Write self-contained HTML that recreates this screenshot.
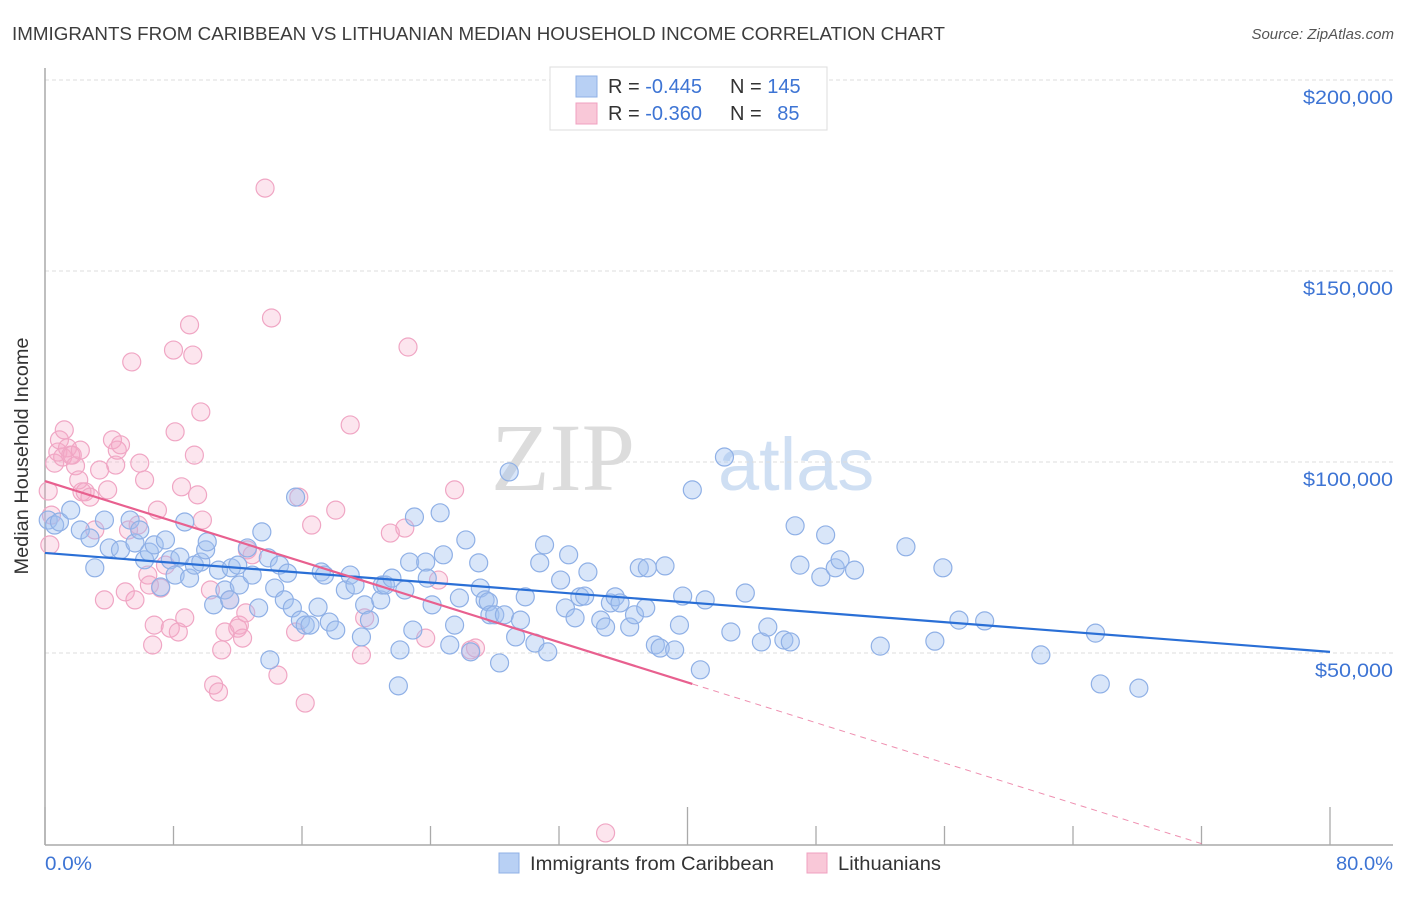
<!DOCTYPE html>
<html><head><meta charset="utf-8"><style>
body{margin:0;background:#fff;font-family:"Liberation Sans",sans-serif;}
svg text{font-family:"Liberation Sans",sans-serif;}
</style></head><body>
<svg width="1406" height="892" xmlns="http://www.w3.org/2000/svg">
<text x="12" y="40" font-size="18" fill="#3c3c3c" textLength="933" lengthAdjust="spacingAndGlyphs">IMMIGRANTS FROM CARIBBEAN VS LITHUANIAN MEDIAN HOUSEHOLD INCOME CORRELATION CHART</text>
<text x="1394" y="39" font-size="15" fill="#555" font-style="italic" text-anchor="end">Source: ZipAtlas.com</text>
<g>
<text x="635" y="490" font-size="96" fill="#dcdcdc" text-anchor="end" font-family="Liberation Serif" style="font-family:'Liberation Serif',serif">ZIP</text>
<text x="718" y="490" font-size="74" fill="#cfdff3">atlas</text>
</g>
<g id="grid"></g>
<line x1="45" y1="68" x2="45" y2="845" stroke="#aaa" stroke-width="1.5"/>
<line x1="45" y1="845" x2="1393" y2="845" stroke="#aaa" stroke-width="1.5"/>
<g id="ticks"></g>
<text x="28" y="456" font-size="19" fill="#333" text-anchor="middle" transform="rotate(-90 28 456)" textLength="237" lengthAdjust="spacingAndGlyphs">Median Household Income</text>
<text x="45" y="870" font-size="19" fill="#3d74d4" textLength="47" lengthAdjust="spacingAndGlyphs">0.0%</text>
<text x="1336" y="870" font-size="19" fill="#3d74d4" textLength="57" lengthAdjust="spacingAndGlyphs">80.0%</text>
<g id="pts"></g>
<g id="lines"></g>
<g>
<rect x="550" y="67" width="277" height="63" fill="#fff" stroke="#ddd"/>
<rect x="576" y="76" width="21" height="21" fill="#b8d0f4" stroke="#8fb0e6"/>
<rect x="576" y="103" width="21" height="21" fill="#f9c8d8" stroke="#f0a0c0"/>
<text x="608" y="93" font-size="20" fill="#333">R = <tspan fill="#3d74d4">-0.445</tspan></text>
<text x="730" y="93" font-size="20" fill="#333">N = <tspan fill="#3d74d4">145</tspan></text>
<text x="608" y="120" font-size="20" fill="#333">R = <tspan fill="#3d74d4">-0.360</tspan></text>
<text x="730" y="120" font-size="20" fill="#333">N = <tspan fill="#3d74d4" dx="10">85</tspan></text>
</g>
<g>
<rect x="499" y="853" width="20" height="20" fill="#b8d0f4" stroke="#8fb0e6"/>
<text x="530" y="870" font-size="19" fill="#333" textLength="244" lengthAdjust="spacingAndGlyphs">Immigrants from Caribbean</text>
<rect x="807" y="853" width="20" height="20" fill="#f9c8d8" stroke="#f0a0c0"/>
<text x="838" y="870" font-size="19" fill="#333" textLength="103" lengthAdjust="spacingAndGlyphs">Lithuanians</text>
</g>
</svg>
<script>
const yTicks=[50000,100000,150000,200000];
const yTickLabels=["$50,000","$100,000","$150,000","$200,000"];
const xTicks=[0,8,16,24,32,40,48,56,64,72,80];
const blueX=[.2,.6,.9,1.6,2.2,2.8,3.1,3.7,4.0,4.7,5.3,5.6,5.9,6.2,6.5,6.8,7.2,7.5,7.8,8.1,8.4,8.7,9.0,9.3,9.7,10.0,10.1,10.5,10.8,11.2,11.5,11.6,12.0,12.1,12.6,12.9,13.3,13.5,13.9,14.0,14.3,14.6,14.9,15.1,15.4,15.6,15.9,16.2,16.5,17.0,17.2,17.4,17.7,18.1,18.7,19.0,19.3,19.7,19.9,20.2,20.9,21.0,21.2,21.6,22.0,22.1,22.4,22.7,23.0,22.9,23.7,23.8,24.1,24.6,24.8,25.2,25.5,25.8,26.2,26.5,27.0,27.1,27.4,27.6,27.7,28.0,28.3,28.6,28.9,29.3,29.6,29.9,30.5,30.8,31.1,31.3,32.1,32.4,32.6,33.0,33.3,33.6,33.8,34.6,34.9,35.2,35.5,35.8,36.4,36.7,37.0,37.4,37.5,38.0,38.3,38.6,39.2,39.5,39.7,40.3,40.8,41.1,42.3,42.7,43.6,44.6,45.0,46.0,46.4,46.7,47.0,48.3,48.6,49.2,49.5,50.4,52.0,53.6,55.4,55.9,56.9,58.5,62.0,65.4,65.7,68.1];
const blueY=[84.8,83.5,84.3,87.4,82.2,80.1,72.3,84.8,77.5,77.0,84.8,78.8,82.2,74.4,76.4,78.3,67.3,79.6,74.4,70.4,75.1,84.3,69.6,73.0,73.8,77.0,79.1,62.6,71.7,66.5,63.9,72.3,73.0,67.8,77.5,70.4,61.8,81.7,74.9,48.2,67.0,73.0,63.9,70.9,61.8,90.8,58.6,57.3,57.3,62.0,71.2,70.4,58.1,56.0,66.5,70.4,67.8,54.2,62.6,58.6,63.9,67.8,67.8,69.6,41.4,50.8,66.5,73.8,85.6,56.0,73.8,69.6,62.6,86.7,75.7,52.1,57.3,64.4,79.6,50.3,73.6,67.0,63.9,63.4,60.0,60.0,47.4,60.0,97.4,54.2,58.6,64.7,52.6,73.6,78.3,50.3,69.1,61.8,75.7,59.2,64.7,64.9,71.2,58.6,56.8,63.1,64.7,63.1,56.8,60.0,72.3,61.8,72.3,52.1,51.3,72.8,50.8,57.3,64.9,92.7,45.6,63.9,101.3,55.5,65.7,52.9,56.8,53.4,52.9,83.3,73.0,69.9,80.9,72.3,74.4,71.7,51.8,77.8,53.1,72.3,58.6,58.4,49.5,55.2,41.9,40.8];
const pinkX=[.2,.3,.4,.6,.8,.9,1.1,1.2,1.4,1.6,1.7,1.9,2.1,2.2,2.3,2.5,2.8,3.1,3.4,3.7,3.9,4.2,4.4,4.5,4.7,5.0,5.2,5.4,5.6,5.8,5.9,6.2,6.4,6.5,6.7,6.8,7.0,7.2,7.5,7.8,8.0,8.1,8.3,8.5,8.7,9.0,9.2,9.3,9.5,9.7,9.8,10.3,10.5,10.8,11.0,11.2,11.5,12.0,12.1,12.3,12.5,12.6,12.9,13.7,14.1,14.5,15.6,15.8,16.2,16.6,18.1,19.0,19.7,19.9,21.5,22.4,22.6,23.7,24.5,25.5,26.5,26.8,34.9];
const pinkY=[92.4,78.3,86.1,99.7,102.6,105.8,101.3,108.4,103.7,101.8,101.8,99.0,95.3,103.1,92.2,92.2,90.8,82.2,97.9,63.9,92.7,105.8,99.2,103.1,104.5,66.0,82.2,126.2,63.9,83.5,99.7,95.3,70.4,67.8,52.1,57.3,87.4,67.0,73.0,56.5,129.3,107.9,55.5,93.5,59.2,135.9,128.0,101.8,91.4,113.1,84.8,66.5,41.6,39.8,50.8,55.5,63.9,56.5,57.3,53.9,60.5,77.0,75.7,171.7,137.7,44.2,55.5,90.8,36.9,83.5,87.4,109.7,49.5,59.2,81.4,82.7,130.1,53.9,69.1,92.7,50.8,51.3,2.9];
const blueTrend=[76.2,50.3];
const pinkTrend=[95.0,41.9,0.1];
const pinkTrendX=[0,40.3,72];
const NS="http://www.w3.org/2000/svg";
function sx(p){return 45+p*(1330-45)/80;}
function sy(k){return 844-k*191/50;}
function mk(t,a,parent){const e=document.createElementNS(NS,t);for(const k in a)e.setAttribute(k,a[k]);parent.appendChild(e);return e;}
const grid=document.getElementById('grid');
yTicks.forEach((v,i)=>{
  const y=sy(v/1000);
  const l=mk('line',{x1:45,x2:1393,y1:y,y2:y,stroke:'#ddd','stroke-dasharray':'4 3'},grid);
  
  
  const len=yTickLabels[i].length>7?90:78;
  const t=mk('text',{x:1393-len,y:y+24,'font-size':19,fill:'#3d74d4',textLength:len,lengthAdjust:'spacingAndGlyphs'},grid);
  t.textContent=yTickLabels[i];
  
  
});
const ticks=document.getElementById('ticks');
xTicks.forEach((p,i)=>{
  const x=sx(p);
  const top=(i===0||i===xTicks.length-1||i===5)?807:826;
  const l=mk('line',{x1:x,x2:x,y1:top,y2:845,stroke:'#aaa','stroke-width':1.3},ticks);
  
  
});
const pts=document.getElementById('pts');
pinkX.forEach((p,i)=>{
  const c=mk('circle',{cx:sx(p),cy:sy(pinkY[i]),r:9,fill:'rgba(246,170,200,0.3)',stroke:'#f0a6c4','stroke-width':1.2},pts);
  
  
});
blueX.forEach((p,i)=>{
  const c=mk('circle',{cx:sx(p),cy:sy(blueY[i]),r:9,fill:'rgba(160,192,240,0.4)',stroke:'#8fb0e6','stroke-width':1.2},pts);
  
  
});
const lines=document.getElementById('lines');
const bl=mk('line',{x1:sx(0),y1:sy(blueTrend[0]),x2:sx(80),y2:sy(blueTrend[1]),stroke:'#2a6fd6','stroke-width':2.2},lines);


const pl=mk('line',{x1:sx(pinkTrendX[0]),y1:sy(pinkTrend[0]),x2:sx(pinkTrendX[1]),y2:sy(pinkTrend[1]),stroke:'#e8608f','stroke-width':2.2},lines);


const pd=mk('line',{x1:sx(pinkTrendX[1]),y1:sy(pinkTrend[1]),x2:sx(pinkTrendX[2]),y2:sy(pinkTrend[2]),stroke:'#e8608f','stroke-width':1,'stroke-dasharray':'6 5',opacity:0.7},lines);


</script>
</body></html>
